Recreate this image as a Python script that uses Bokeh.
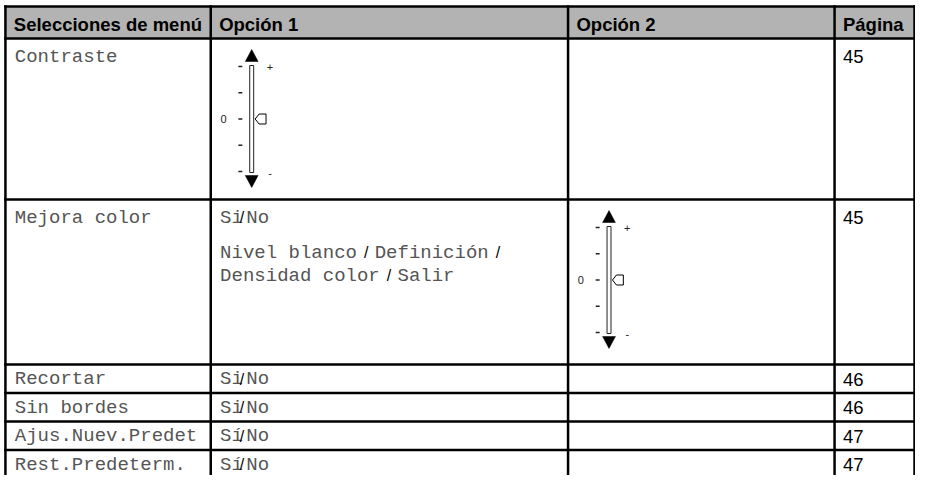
from bokeh.plotting import figure
from bokeh.models import Range1d, ColumnDataSource
from bokeh.core.properties import value
from bokeh.embed import file_html
from bokeh.resources import INLINE

# ---------------- data ----------------
headers = ["Selecciones de menú", "Opción 1", "Opción 2", "Página"]
menu_items = ["Contraste", "Mejora color", "Recortar", "Sin bordes",
              "Ajus.Nuev.Predet", "Rest.Predeterm."]
# per row: paragraphs -> lines -> segments (slash segments drawn in sans font)
option1_text = [
    [],
    [[["Si", "/", "No"]],
     [["Nivel blanco", " / ", "Definición", " /"],
      ["Densidad color", " / ", "Salir"]]],
    [[["Si", "/", "No"]]],
    [[["Si", "/", "No"]]],
    [[["Sí", "/", "No"]]],
    [[["Sí", "/", "No"]]],
]
option2_text = [[], [], [], [], [], []]
option1_slider = [True, False, False, False, False, False]
option2_slider = [False, True, False, False, False, False]
pages = ["45", "45", "46", "46", "47", "47"]
slider_top_label = "+"
slider_bottom_label = "-"
slider_zero_label = "0"
slider_steps = 5

# ---------------- layout ----------------
W, H = 915, 475
X_LO, X_HI = 0, 927
Y_TOP = 0
Y_BOT = Y_TOP + H
SX = W / (X_HI - X_LO)

X0, Y0 = 5, 6
col_widths = [208, 362, 270, 81]
header_h = 32
row_heights = [161, 165, 28.5, 28.5, 28.5, 40]
LINE_W = 2.5
PAD = 8.5
MONO_SIZE = 19
CW = 0.6 * MONO_SIZE / SX
LINE_H = 23
PARA_GAP = 12
TEXT_DY = -5.5  # renderer places alphabetic baselines a little low

col_edges = [X0]
for w in col_widths:
    col_edges.append(col_edges[-1] + w)
row_tops = [Y0 + header_h]
for h in row_heights[:-1]:
    row_tops.append(row_tops[-1] + h)


def base_off(r):
    return (23.5 if row_heights[r] > 60 else 20) + TEXT_DY


p = figure(width=W, height=H, x_range=Range1d(X_LO, X_HI),
           y_range=Range1d(Y_BOT, Y_TOP), output_backend="svg",
           toolbar_location=None, x_axis_type=None, y_axis_type=None,
           min_border=0)
p.grid.visible = False
p.outline_line_color = None
p.background_fill_color = "white"
p.border_fill_color = "white"

# header background
p.quad(left=[col_edges[0]], right=[col_edges[-1]], top=[Y0],
       bottom=[Y0 + header_h], fill_color="#b3b3b3", line_color=None)

# text collections
mono = dict(x=[], y=[], text=[])
slash = dict(x=[], y=[], text=[])


def layout_line(segments, x, y):
    cur = x
    for seg in segments:
        if seg.strip() == "/":
            if seg.startswith(" "):
                gap = 18
                slash["x"].append(cur + 9.5)
            else:
                gap = 3.5
                slash["x"].append(cur - 1)
            slash["y"].append(y)
            slash["text"].append("/")
            cur += gap
        else:
            mono["x"].append(cur)
            mono["y"].append(y)
            mono["text"].append(seg)
            cur += len(seg) * CW


def layout_cell(paras, x, r):
    y = row_tops[r] + base_off(r)
    first = True
    for para in paras:
        for li, line in enumerate(para):
            if not first:
                y += LINE_H + (PARA_GAP if li == 0 else 0)
            first = False
            layout_line(line, x, y)


for r, item in enumerate(menu_items):
    mono["x"].append(col_edges[0] + PAD + 1)
    mono["y"].append(row_tops[r] + base_off(r))
    mono["text"].append(item)
    layout_cell(option1_text[r], col_edges[1] + PAD + 1, r)
    layout_cell(option2_text[r], col_edges[2] + PAD + 1, r)

# slider glyphs
tri = dict(xs=[], ys=[])
ptr = dict(xs=[], ys=[])
bar = dict(left=[], right=[], top=[], bottom=[])
dash = dict(x0=[], y0=[], x1=[], y1=[])
small = dict(x=[], y=[], text=[])


def draw_slider(cx, ty):
    c = cx + 41.5
    tri["xs"].append([c - 6.5, c + 6.5, c]);  tri["ys"].append([ty + 23, ty + 23, ty + 11])
    tri["xs"].append([c - 6.5, c + 6.5, c]);  tri["ys"].append([ty + 137, ty + 137, ty + 149])
    bar["left"].append(c - 2); bar["right"].append(c + 2)
    bar["top"].append(ty + 27); bar["bottom"].append(ty + 134)
    y_first, y_last = ty + 28, ty + 133
    step = (y_last - y_first) / (slider_steps - 1)
    for i in range(slider_steps):
        yy = y_first + i * step
        dash["x0"].append(cx + 28); dash["x1"].append(cx + 32)
        dash["y0"].append(yy); dash["y1"].append(yy)
    ymid = y_first + (slider_steps // 2) * step
    ptr["xs"].append([c + 3.5, c + 7.5, c + 14.5, c + 14.5, c + 7.5])
    ptr["ys"].append([ymid, ymid - 5, ymid - 5, ymid + 5, ymid + 5])
    small["x"] += [cx + 13, cx + 60, cx + 60]
    small["y"] += [ymid, y_first, y_last + 1]
    small["text"] += [slider_zero_label, slider_top_label, slider_bottom_label]


for r in range(len(menu_items)):
    if option1_slider[r]:
        draw_slider(col_edges[1], row_tops[r])
    if option2_slider[r]:
        draw_slider(col_edges[2], row_tops[r])

p.quad(source=ColumnDataSource(bar), left="left", right="right", top="top",
       bottom="bottom", fill_color="white", line_color="#222222", line_width=1)
p.patches(source=ColumnDataSource(tri), xs="xs", ys="ys", fill_color="black",
          line_color="black", line_width=0.5)
p.patches(source=ColumnDataSource(ptr), xs="xs", ys="ys", fill_color="white",
          line_color="black", line_width=1)
p.segment(source=ColumnDataSource(dash), x0="x0", y0="y0", x1="x1", y1="y1",
          line_color="#222222", line_width=1.5)
p.text(source=ColumnDataSource(small), x="x", y="y", text="text",
       text_font=value("Liberation Sans"), text_font_size=value("11px"),
       text_align="center", text_baseline="middle", text_color="#222222")

# grid lines (no closing line under the last, cut-off row)
hl_y = [Y0] + row_tops
hx0 = [col_edges[0] - LINE_W / 2] * len(hl_y)
hx1 = [col_edges[-1] + LINE_W / 2] * len(hl_y)
p.segment(x0=hx0, x1=hx1, y0=hl_y, y1=hl_y, line_color="black",
          line_width=LINE_W)
p.segment(x0=col_edges, x1=col_edges, y0=[Y0 - LINE_W / 2] * len(col_edges),
          y1=[Y_BOT + 10] * len(col_edges), line_color="black",
          line_width=LINE_W)

# header texts
p.text(x=[e + PAD for e in col_edges[:-1]], y=[Y0 + 23 + TEXT_DY] * len(headers),
       text=headers, text_font=value("Liberation Sans"),
       text_font_size=value("18.5px"), text_font_style="bold",
       text_color="black", text_baseline="alphabetic", text_align="left")

# body texts
p.text(source=ColumnDataSource(mono), x="x", y="y", text="text",
       text_font=value("Liberation Mono"), text_font_size=value(f"{MONO_SIZE}px"),
       text_color="#555555", text_baseline="alphabetic", text_align="left")
p.text(source=ColumnDataSource(slash), x="x", y="y", text="text",
       text_font=value("Liberation Sans"), text_font_size=value("16px"),
       text_color="black", text_baseline="alphabetic", text_align="center")

# page numbers
p.text(x=[col_edges[3] + PAD] * len(pages),
       y=[row_tops[r] + base_off(r) for r in range(len(pages))], text=pages,
       text_font=value("Liberation Sans"), text_font_size=value("18.5px"),
       text_color="black", text_baseline="alphabetic", text_align="left")

open("out.html", "w").write(file_html(p, INLINE))
